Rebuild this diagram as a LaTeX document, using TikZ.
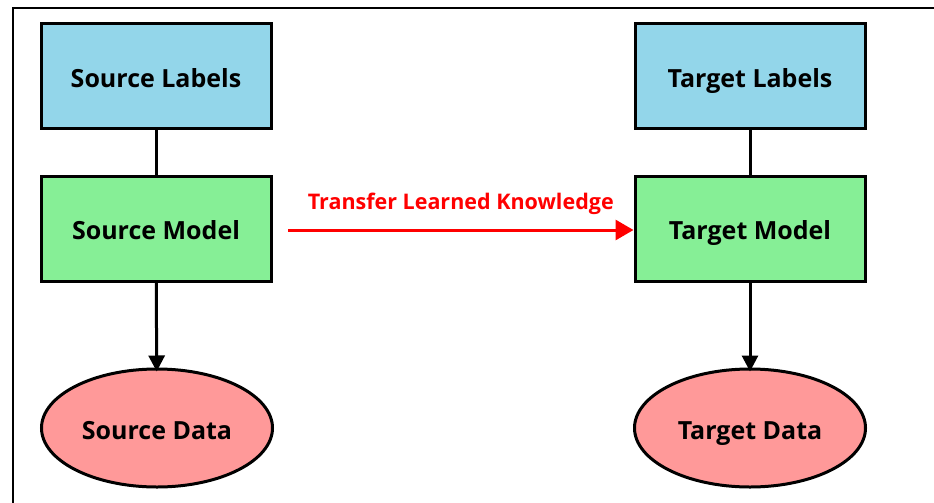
\documentclass[tikz,border=0pt]{standalone}
\usepackage{fontspec}
\setmainfont{Open Sans}
\usetikzlibrary{shapes.geometric,arrows.meta}
\definecolor{labelblue}{RGB}{147,214,234}
\definecolor{modelgreen}{RGB}{134,239,150}
\definecolor{datapink}{RGB}{255,153,153}
\definecolor{transred}{RGB}{255,0,0}
\tikzset{
  boxtext/.style={font=\bfseries\fontsize{25}{29}\selectfont,
    text height=22pt, text depth=0pt},
  box/.style={draw=black, line width=3pt, minimum width=230pt, minimum height=105pt,
    inner sep=0pt, boxtext},
  labelbox/.style={box, fill=labelblue},
  modelbox/.style={box, fill=modelgreen},
  databox/.style={ellipse, draw=black, line width=3pt, fill=datapink,
    minimum width=231pt, minimum height=118pt, inner sep=0pt, boxtext},
  link/.style={draw=black, line width=3pt},
  flow/.style={link, -{Triangle[width=16pt,length=16pt]}, shorten >=-4pt},
  transfer/.style={draw=transred, line width=3pt, -{Triangle[width=20pt,length=18pt]}},
}
\begin{document}
\begin{tikzpicture}[x=1pt,y=-1pt]
  \useasboundingbox (0,0) rectangle (934,503);
  \fill[white] (0,0) rectangle (934,503);
  % outer frame: only the top and left edges fall inside the page
  \draw[line width=1.5pt] (934,8) -- (13,8) -- (13,503);

  \node[labelbox] (slabels) at (156,76) {Source Labels};
  \node[modelbox] (smodel)  at (156,228.5) {Source Model};
  \node[databox]  (sdata)   at (157,428) {Source Data};

  \node[labelbox] (tlabels) at (750,76) {Target Labels};
  \node[modelbox] (tmodel)  at (750,228.5) {Target Model};
  \node[databox]  (tdata)   at (750,428) {Target Data};

  \draw[link] (slabels) -- (smodel);
  \draw[link] (tlabels) -- (tmodel);
  \draw[flow] (smodel) -- (sdata);
  \draw[flow] (tmodel) -- (tdata);

  \coordinate (tstart) at (288,230);
  \draw[transfer] (tstart) -- (tmodel.west |- tstart)
    node[midway, above=11pt, text=transred, font=\bfseries\fontsize{21.5}{25}\selectfont]
    {Transfer Learned Knowledge};
\end{tikzpicture}
\end{document}
